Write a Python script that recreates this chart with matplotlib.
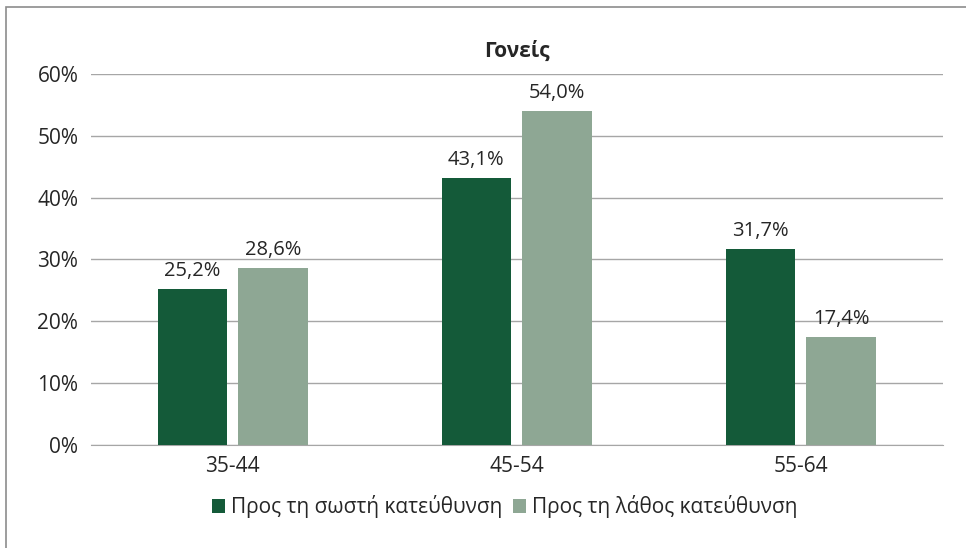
import matplotlib.pyplot as plt
import matplotlib.patches as patches
import numpy as np

plt.rcParams['font.family'] = ['Open Sans', 'DejaVu Sans']

# Δεδομένα
ηλικίες = ['35-44', '45-54', '55-64']
σωστή = [25.2, 43.1, 31.7]
λάθος = [28.6, 54.0, 17.4]
σειρές = ['Προς τη σωστή κατεύθυνση', 'Προς τη λάθος κατεύθυνση']

χρώμα_σωστή = '#145a39'
χρώμα_λάθος = '#8ea794'
κείμενο = '#262626'
fs = 15

fig = plt.figure(figsize=(9.66, 5.48), dpi=100, facecolor='white')
ax = fig.add_axes([0.094, 0.188, 0.882, 0.677])

x = np.arange(len(ηλικίες))
w = 0.245
gap = 0.04
b1 = ax.bar(x - (w + gap) / 2, σωστή, w, color=χρώμα_σωστή, label=σειρές[0], zorder=3)
b2 = ax.bar(x + (w + gap) / 2, λάθος, w, color=χρώμα_λάθος, label=σειρές[1], zorder=3)

for bars, vals in ((b1, σωστή), (b2, λάθος)):
    for rect, v in zip(bars, vals):
        ax.annotate(f'{v:.1f}%'.replace('.', ','),
                    (rect.get_x() + rect.get_width() / 2, v),
                    xytext=(0, 6), textcoords='offset points',
                    ha='center', va='bottom', fontsize=14.5, color=κείμενο)

ax.set_xlim(-0.5, 2.5)
ax.set_ylim(0, 60)
ax.set_yticks(np.arange(0, 61, 10))
ax.set_yticklabels([f'{t}%' for t in range(0, 61, 10)])
ax.set_xticks(x)
ax.set_xticklabels(ηλικίες)
ax.grid(axis='y', color='#a6a6a6', lw=1, zorder=0)
ax.tick_params(axis='both', length=0, labelsize=fs, colors=κείμενο)
ax.tick_params(axis='y', pad=9)
ax.tick_params(axis='x', pad=8)
for s in ['top', 'right', 'left']:
    ax.spines[s].set_visible(False)
ax.spines['bottom'].set_color('#a6a6a6')

ax.set_title('Γονείς', fontsize=fs, fontweight='bold', color=κείμενο, pad=12)

ax.legend(loc='upper center', bbox_to_anchor=(0.486, -0.085), ncol=2, frameon=False,
          fontsize=fs, handlelength=0.6, handleheight=0.6, handletextpad=0.3,
          columnspacing=0.5, labelcolor=κείμενο)

# πλαίσιο γύρω από το γράφημα
fig.patches.append(patches.Rectangle((6 / 966, -0.05), 1.1, 1 - 7 / 548 + 0.05,
                                     transform=fig.transFigure, fill=False,
                                     edgecolor='#8c8c8c', lw=1.2))

fig.savefig('out.png', dpi=100, facecolor='white')
